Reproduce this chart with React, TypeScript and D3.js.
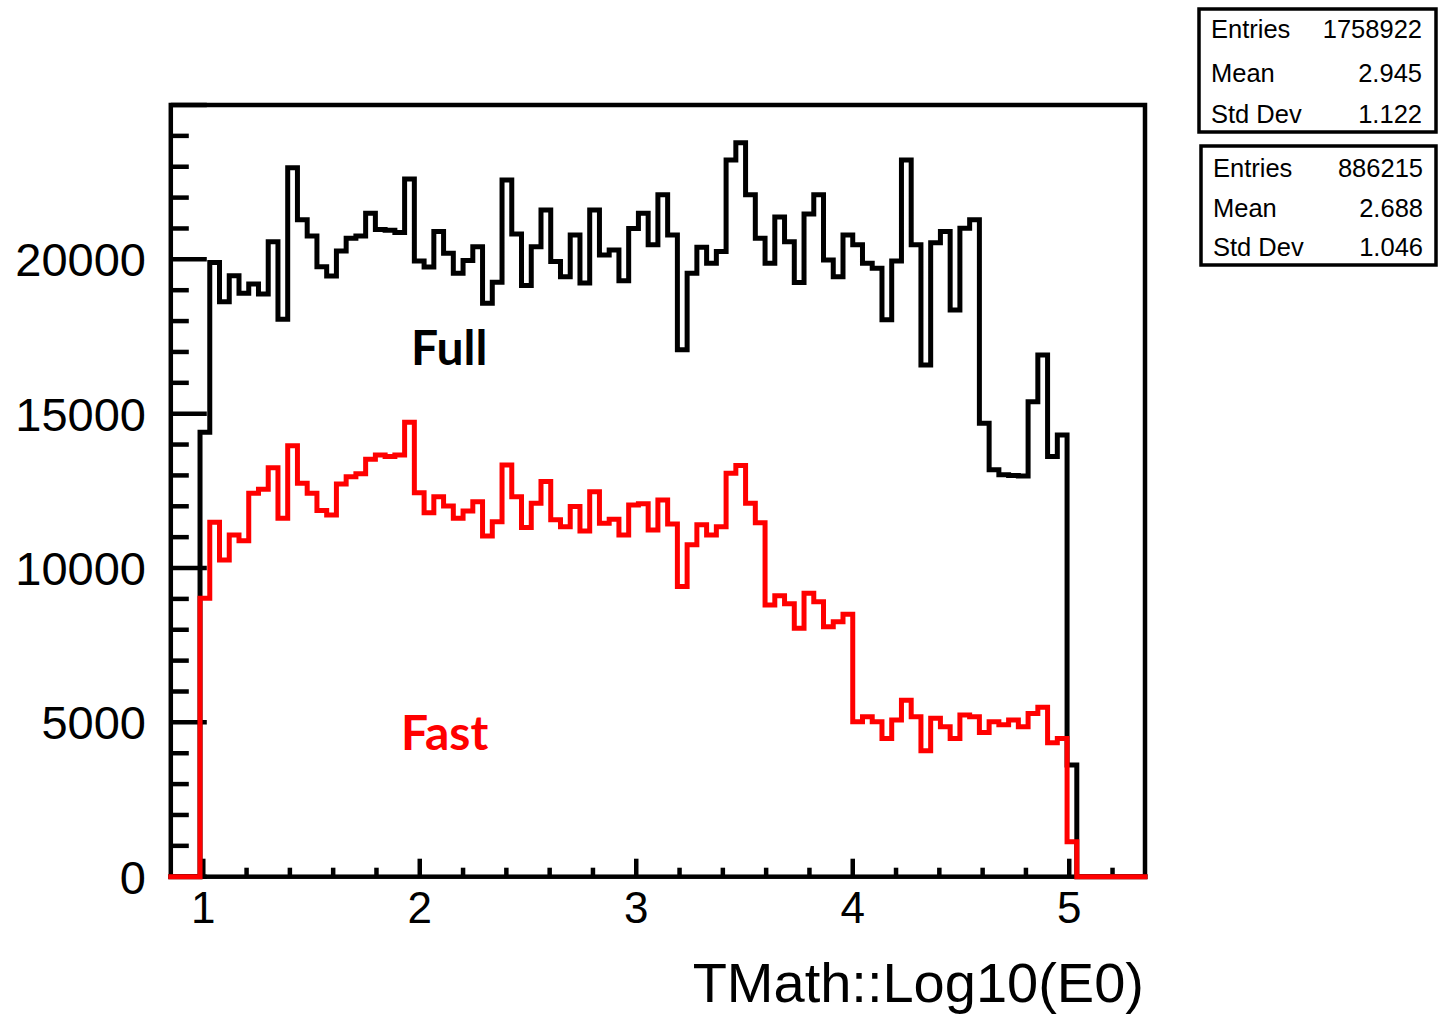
import React from "react";
import * as d3 from "d3";

// Histogram binning (ROOT TH1): 100 bins on [0.85, 5.35]
const xMin = 0.85;
const xMax = 5.35;
const nBins = 100;
const firstFilledBin = 3; // bins before this one are empty

// "Full" simulation counts, bins 3..92
const fullCounts = [
  14400, 19900, 18630, 19470, 18900, 19200, 18880, 20570, 18060, 22970,
  21280, 20760, 19760, 19460, 20270, 20680, 20760, 21490, 20970, 20940,
  20870, 22600, 19950, 19750, 20900, 20200, 19550, 19960, 20410, 18580,
  19260, 22570, 20820, 19150, 20410, 21600, 19930, 19440, 20790, 19230,
  21600, 20140, 20300, 19310, 21000, 21490, 20470, 22090, 20790, 17070,
  19550, 20390, 19870, 20250, 23220, 23780, 22090, 20680, 19870, 21370,
  20570, 19250, 21470, 22090, 19980, 19440, 20790, 20470, 19870, 19710,
  18040, 19950, 23220, 20470, 16580, 20540, 20900, 18360, 21010, 21280,
  14690, 13180, 13020, 13000, 12980, 15390, 16900, 13610, 14310, 3620,
];

// "Fast" simulation counts, bins 3..92
const fastCounts = [
  9020, 11480, 10260, 11070, 10880, 12420, 12550, 13250, 11610, 13960,
  12750, 12420, 11860, 11720, 12720, 12960, 13050, 13520, 13660, 13610,
  13660, 14720, 12440, 11790, 12310, 12010, 11610, 11850, 12150, 11040,
  11500, 13340, 12310, 11310, 12100, 12800, 11560, 11340, 11990, 11200,
  12470, 11450, 11580, 11070, 12040, 12080, 11230, 12200, 11430, 9400,
  10750, 11400, 11070, 11340, 13070, 13320, 12100, 11470, 8800, 9100,
  8840, 8050, 9180, 8910, 8100, 8260, 8500, 5020, 5180, 5020,
  4480, 5080, 5720, 5180, 4080, 5130, 4860, 4480, 5240, 5180,
  4670, 5020, 4920, 5080, 4860, 5290, 5490, 4340, 4480, 1130,
];

const yTickValues = [0, 5000, 10000, 15000, 20000];
const xTickValues = [1, 2, 3, 4, 5];
const xAxisTitle = "TMath::Log10(E0)";

const statsFull = [
  ["Entries", "1758922"],
  ["Mean", "2.945"],
  ["Std Dev", "1.122"],
];
const statsFast = [
  ["Entries", "886215"],
  ["Mean", "2.688"],
  ["Std Dev", "1.046"],
];

const W = 1441;
const H = 1023;
const left = 170.8;
const right = 1145;
const top = 105;
const bottom = 876.7;

const x = d3.scaleLinear().domain([xMin, xMax]).range([left, right]);
const y = d3.scaleLinear().domain([0, 25000]).range([bottom, top]);
const binW = (xMax - xMin) / nBins;

function fullBins(counts: number[]) {
  const arr: number[] = new Array(nBins).fill(0);
  counts.forEach((c, i) => (arr[firstFilledBin + i] = c));
  return arr;
}

function stepPath(counts: number[]) {
  const vals = fullBins(counts);
  const pts: [number, number][] = vals.map((v, i) => [xMin + i * binW, v]);
  pts.push([xMax, vals[nBins - 1]]);
  const line = d3
    .line<[number, number]>()
    .x((d) => x(d[0]))
    .y((d) => y(d[1]))
    .curve(d3.curveStepAfter);
  return line(pts) || "";
}

const font = "'Liberation Sans', Arial, Helvetica, sans-serif";

function StatsBox({
  rows,
  x0,
  y0,
  w,
  h,
  labelX,
  valueX,
  baselines,
}: {
  rows: string[][];
  x0: number;
  y0: number;
  w: number;
  h: number;
  labelX: number;
  valueX: number;
  baselines: number[];
}) {
  return (
    <g>
      <rect x={x0} y={y0} width={w} height={h} fill="white" stroke="black" strokeWidth={3.5} />
      {rows.map((r, i) => (
        <g key={i} fontFamily={font} fontSize={25.5} fill="black">
          <text x={labelX} y={baselines[i]}>{r[0]}</text>
          <text x={valueX} y={baselines[i]} textAnchor="end">{r[1]}</text>
        </g>
      ))}
    </g>
  );
}

export default function App() {
  const yMinor = d3.range(0, 25001, 1000);
  const xMinor = d3.range(1.0, 5.35, 0.2);
  return (
    <svg
      width={W}
      height={H}
      style={{ position: "absolute", left: 0, top: 0, background: "white" }}
    >
      <rect x={0} y={0} width={W} height={H} fill="white" />
      {/* frame */}
      <rect
        x={left}
        y={top}
        width={right - left}
        height={bottom - top}
        fill="none"
        stroke="black"
        strokeWidth={4.5}
      />
      {/* y ticks */}
      {yMinor.map((v) => {
        const major = v % 5000 === 0;
        return (
          <line
            key={"yt" + v}
            x1={left}
            x2={left + (major ? 36 : 18)}
            y1={y(v)}
            y2={y(v)}
            stroke="black"
            strokeWidth={4.5}
          />
        );
      })}
      {/* x ticks */}
      {xMinor.map((v, i) => {
        const major = i % 5 === 0;
        return (
          <line
            key={"xt" + i}
            x1={x(v)}
            x2={x(v)}
            y1={bottom}
            y2={bottom - (major ? 18 : 9)}
            stroke="black"
            strokeWidth={4.5}
          />
        );
      })}
      {/* histograms */}
      <path d={stepPath(fullCounts)} fill="none" stroke="black" strokeWidth={5} strokeLinejoin="miter" strokeLinecap="square" />
      <path d={stepPath(fastCounts)} fill="none" stroke="#ff0000" strokeWidth={5} strokeLinejoin="miter" strokeLinecap="square" />
      {/* y labels */}
      {yTickValues.map((v) => (
        <text
          key={"yl" + v}
          x={146}
          y={y(v) + 17}
          textAnchor="end"
          fontFamily={font}
          fontSize={47}
          fill="black"
        >
          {v}
        </text>
      ))}
      {/* x labels */}
      {xTickValues.map((v) => (
        <text
          key={"xl" + v}
          x={x(v)}
          y={923}
          textAnchor="middle"
          fontFamily={font}
          fontSize={44}
          fill="black"
        >
          {v}
        </text>
      ))}
      <text x={1144} y={1002} textAnchor="end" fontFamily={font} fontSize={56} fill="black">
        {xAxisTitle}
      </text>
      {/* annotations */}
      <text x={411} y={365} fontFamily="Lato, 'Open Sans', sans-serif" fontWeight="bold" fontSize={48} fill="black">
        Full
      </text>
      <text x={401} y={750} fontFamily="Lato, 'Open Sans', sans-serif" fontWeight="bold" fontSize={48} fill="#ff0000">
        Fast
      </text>
      {/* stats boxes */}
      <StatsBox rows={statsFull} x0={1199} y0={9} w={237} h={123} labelX={1211} valueX={1422} baselines={[38, 82, 123]} />
      <StatsBox rows={statsFast} x0={1201} y0={146} w={235} h={119} labelX={1213} valueX={1423} baselines={[177, 217, 256]} />
    </svg>
  );
}
